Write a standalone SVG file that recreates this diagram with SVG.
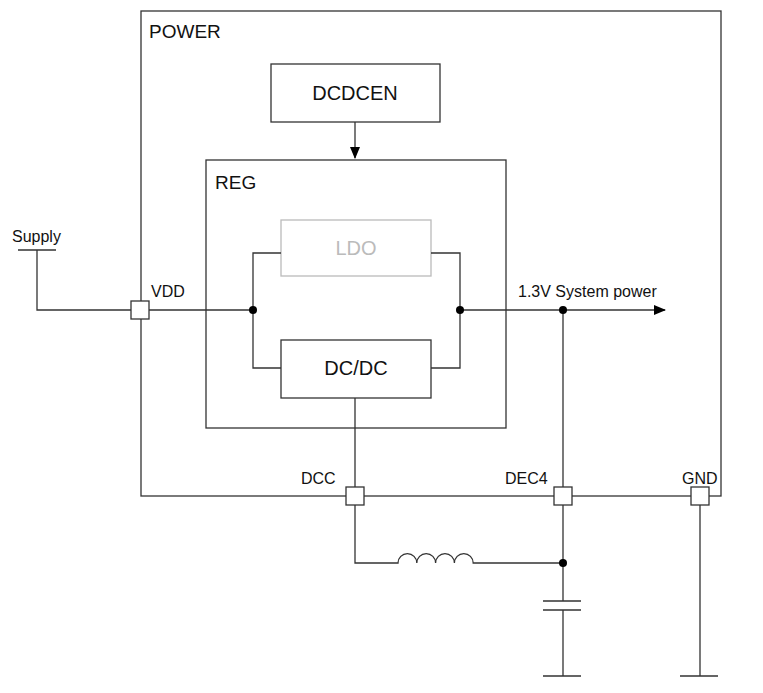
<svg xmlns="http://www.w3.org/2000/svg" width="763" height="693" viewBox="0 0 763 693">
<style>
.w{stroke:#333;stroke-width:1.3;fill:none}
.b{stroke:#333;stroke-width:1.3;fill:#fff}
text{font-family:"Liberation Sans",Arial,sans-serif;fill:#111}
.d{fill:#000}
</style>
<defs><marker id="ah" markerWidth="12" markerHeight="10" refX="11" refY="5" orient="auto" markerUnits="userSpaceOnUse"><path d="M0,0 L12,5 L0,10 Z" fill="#000"/></marker></defs>
<rect width="763" height="693" fill="#fff"/>
<g id="power"><rect class="w" x="141" y="11" width="580" height="485"/><text x="149" y="38" font-size="19">POWER</text></g>
<g id="dcdcen"><rect class="b" x="271" y="64" width="169" height="58"/><text x="355" y="100" font-size="20" text-anchor="middle">DCDCEN</text></g>
<g id="reg"><rect class="w" x="206" y="160" width="300" height="268"/><text x="215" y="189" font-size="19">REG</text></g>
<g id="ldo"><rect x="281" y="220" width="150" height="56" fill="#fff" stroke="#bbb" stroke-width="1.3"/><text x="356" y="255" font-size="20" text-anchor="middle" style="fill:#bbb">LDO</text></g>
<g id="dcdc"><rect class="b" x="281" y="340" width="150" height="58"/><text x="356" y="375" font-size="20" text-anchor="middle">DC/DC</text></g>
<g id="connectors">
<path class="w" d="M355,122 V158" marker-end="url(#ah)"/>
<path class="w" d="M281,253 H253 V368 H281 M431,253 H460 V368 H431"/>
<path class="w" d="M18,250 H56 M37,250 V310 H253"/>
<path class="w" d="M460,310 H665" marker-end="url(#ah)"/>
<path class="w" d="M563,310 V601 M563,610 V676 M543,676 H581 M543,601 H581 M543,610 H581"/>
<path class="w" d="M355,398 V563 H398 a9.4,9.4 0 0 1 18.8,0 a9.4,9.4 0 0 1 18.8,0 a9.4,9.4 0 0 1 18.8,0 a9.4,9.4 0 0 1 18.8,0 H563"/>
<path class="w" d="M700,496 V676 M680,676 H718"/>
<circle class="d" cx="253" cy="310" r="4"/><circle class="d" cx="460" cy="310" r="4"/><circle class="d" cx="563" cy="310" r="4"/><circle class="d" cx="563" cy="563" r="4"/>
</g>
<g id="supply"><text x="12" y="242" font-size="16">Supply</text></g>
<g id="vdd"><rect class="b" x="131" y="301" width="18" height="18"/><text x="151" y="297" font-size="16">VDD</text></g>
<g id="dcc"><rect class="b" x="346" y="487" width="18" height="18"/><text x="301" y="484" font-size="16">DCC</text></g>
<g id="dec4"><rect class="b" x="554" y="487" width="18" height="18"/><text x="505" y="484" font-size="16">DEC4</text></g>
<g id="gnd"><rect class="b" x="691" y="487" width="18" height="18"/><text x="682" y="484" font-size="16">GND</text></g>
<text x="518" y="297" font-size="16">1.3V System power</text>
</svg>
